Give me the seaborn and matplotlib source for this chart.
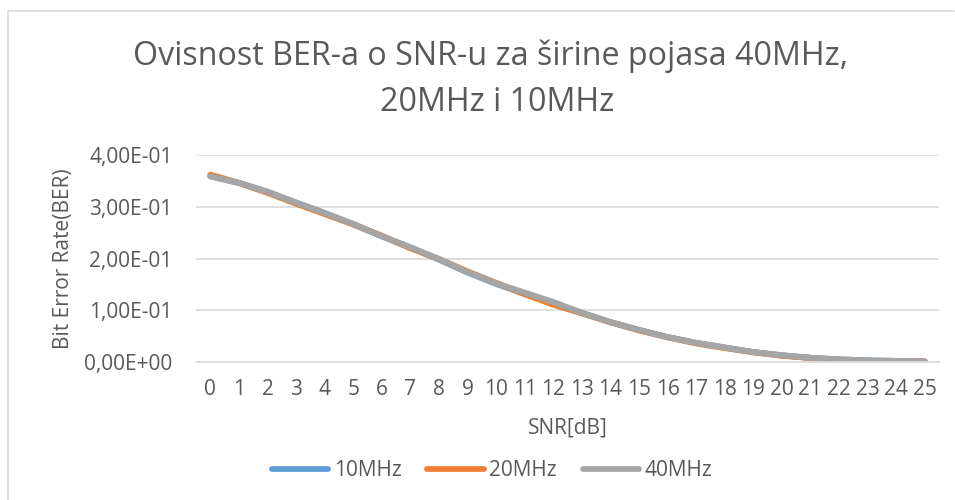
import numpy as np
import pandas as pd
import matplotlib
matplotlib.use("Agg")
import matplotlib.pyplot as plt
import matplotlib.ticker as mticker
from matplotlib.lines import Line2D
import seaborn as sns

# SNR in dB (categories on the x axis)
snr_db = list(range(26))

# BER for each bandwidth
ber_10mhz = [0.359, 0.346, 0.329, 0.308, 0.288, 0.266, 0.243, 0.221, 0.198, 0.173,
             0.151, 0.132, 0.114, 0.095, 0.077, 0.062, 0.048, 0.037, 0.028, 0.019,
             0.013, 0.008, 0.005, 0.003, 0.002, 0.001]
ber_20mhz = [0.362, 0.346, 0.327, 0.306, 0.286, 0.266, 0.244, 0.220, 0.199, 0.175,
             0.153, 0.131, 0.111, 0.094, 0.077, 0.061, 0.048, 0.036, 0.027, 0.019,
             0.012, 0.008, 0.004, 0.002, 0.001, 0.001]
ber_40mhz = [0.359, 0.346, 0.329, 0.308, 0.288, 0.267, 0.243, 0.222, 0.199, 0.174,
             0.152, 0.134, 0.116, 0.095, 0.077, 0.062, 0.048, 0.037, 0.028, 0.019,
             0.013, 0.008, 0.005, 0.003, 0.002, 0.001]

series_names = ["10MHz", "20MHz", "40MHz"]
series_colors = ["#5b9bd5", "#ed7d31", "#a5a5a5"]

y_ticks = [0.0, 0.1, 0.2, 0.3, 0.4]

df = pd.DataFrame({
    "snr": snr_db * 3,
    "ber": ber_10mhz + ber_20mhz + ber_40mhz,
    "serija": [n for n in series_names for _ in snr_db],
})

sns.set_theme(style="white")
plt.rcParams["font.family"] = ["Open Sans", "DejaVu Sans"]
text_col = "#595959"

fig = plt.figure(figsize=(9.55, 5.0), dpi=100)
ax = fig.add_axes([196 / 955, 1 - 362 / 500, (939 - 196) / 955, (362 - 155) / 500])

sns.lineplot(data=df, x="snr", y="ber", hue="serija", palette=series_colors,
             hue_order=series_names, linewidth=4.3, ax=ax, legend=False,
             solid_capstyle="round")

ax.set_xlim(-0.5, 25.5)
ax.set_ylim(0, 0.4)
ax.set_xticks(snr_db)
ax.set_yticks(y_ticks)
ax.yaxis.set_major_formatter(mticker.FuncFormatter(
    lambda v, p: f"{v:.2E}".replace(".", ",")))
ax.grid(axis="y", color="#d9d9d9", linewidth=1.2)
ax.set_axisbelow(True)
for s in ["top", "right", "left"]:
    ax.spines[s].set_visible(False)
ax.spines["bottom"].set_color("#d9d9d9")
ax.spines["bottom"].set_linewidth(1.2)
ax.tick_params(axis="both", length=0, labelsize=15, colors=text_col)
ax.tick_params(axis="x", pad=12)
ax.tick_params(axis="y", pad=17)

ax.set_xlabel("SNR[dB]", fontsize=15, color=text_col, labelpad=13)
ax.set_ylabel("Bit Error Rate(BER)", fontsize=15, color=text_col, labelpad=7)

fig.text(491 / 955, 1 - 65 / 500, "Ovisnost BER-a o SNR-u za širine pojasa 40MHz,",
         ha="center", va="baseline", fontsize=23.2, color=text_col)
fig.text(497 / 955, 1 - 111 / 500, "20MHz i 10MHz",
         ha="center", va="baseline", fontsize=23.2, color=text_col)

handles = [Line2D([0], [0], color=c, linewidth=4.1, solid_capstyle="round")
           for c in series_colors]
fig.legend(handles, series_names, loc="center", bbox_to_anchor=(492 / 955, 1 - 471 / 500),
           ncol=3, frameon=False, fontsize=15, labelcolor=text_col,
           handlelength=2.7, handletextpad=0.25, columnspacing=1.25)

# chart border (left and top edges visible)
fig.add_artist(Line2D([8 / 955, 8 / 955], [0, 1 - 11 / 500], color="#d9d9d9",
                      linewidth=1.2, transform=fig.transFigure))
fig.add_artist(Line2D([8 / 955, 954 / 955], [1 - 11 / 500, 1 - 11 / 500],
                      color="#d9d9d9", linewidth=1.2, transform=fig.transFigure))

fig.savefig("out.png", dpi=100)
